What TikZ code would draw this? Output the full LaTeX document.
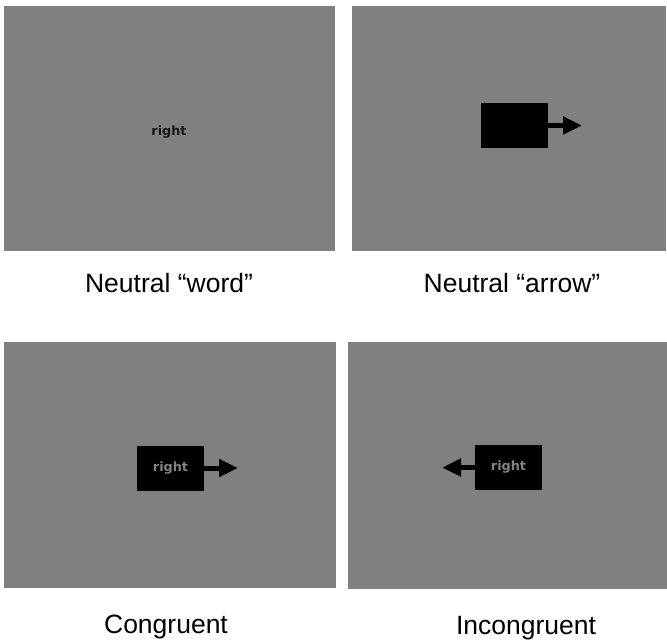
\documentclass[tikz,border=0pt]{standalone}
\usepackage{fontspec}
\setmainfont{Liberation Sans}
\newfontfamily\stimfont{DejaVu Sans}
\usetikzlibrary{arrows.meta}
\tikzset{
	screen/.style={fill={rgb,255:red,128;green,128;blue,128}, draw=none},
	cue/.style={fill=black, inner sep=0pt, minimum width=67pt, minimum height=45pt,
		text={rgb,255:red,130;green,130;blue,130}, font=\stimfont\bfseries\fontsize{12.8}{14}\selectfont},
	word/.style={inner sep=0pt, text={rgb,255:red,25;green,25;blue,25}, font=\stimfont\bfseries\fontsize{12.8}{14}\selectfont},
	caption/.style={anchor=base, inner sep=0pt, font=\fontsize{26.5}{30}\selectfont},
	pointer/.style={line width=5pt, -{Triangle[length=19pt,width=17pt]}}
}
\begin{document}
\begin{tikzpicture}[x=1pt, y=-1pt]
	    \useasboundingbox (0,0) rectangle (667,641);
	    \fill[screen] (4,6) rectangle (335,251);
	    \fill[screen] (352,6) rectangle (666,251);
	    \fill[screen] (4,342) rectangle (336,588);
	    \fill[screen] (348,342) rectangle (667,589);
	    \node[word] (w1) at (169,132) {right};
	    \node[cue] (b2) at (514.5,125.5) {};
	    \coordinate (t2) at (582,125.5);
	    \node[cue] (b3) at (170.5,468) {right};
	    \coordinate (t3) at (238,468);
	    \node[cue] (b4) at (508.5,467.5) {right};
	    \coordinate (t4) at (442,467.5);
	    \draw[pointer] (b2.east) -- (t2);
	    \draw[pointer] (b3.east) -- (t3);
	    \draw[pointer] (b4.west) -- (t4);
	    \node[caption] (c1) at (169,292) {Neutral “word”};
	    \node[caption] (c2) at (512,292) {Neutral “arrow”};
	    \node[caption] (c3) at (166,633) {Congruent};
	    \node[caption] (c4) at (526,634) {Incongruent};
\end{tikzpicture}
\end{document}
